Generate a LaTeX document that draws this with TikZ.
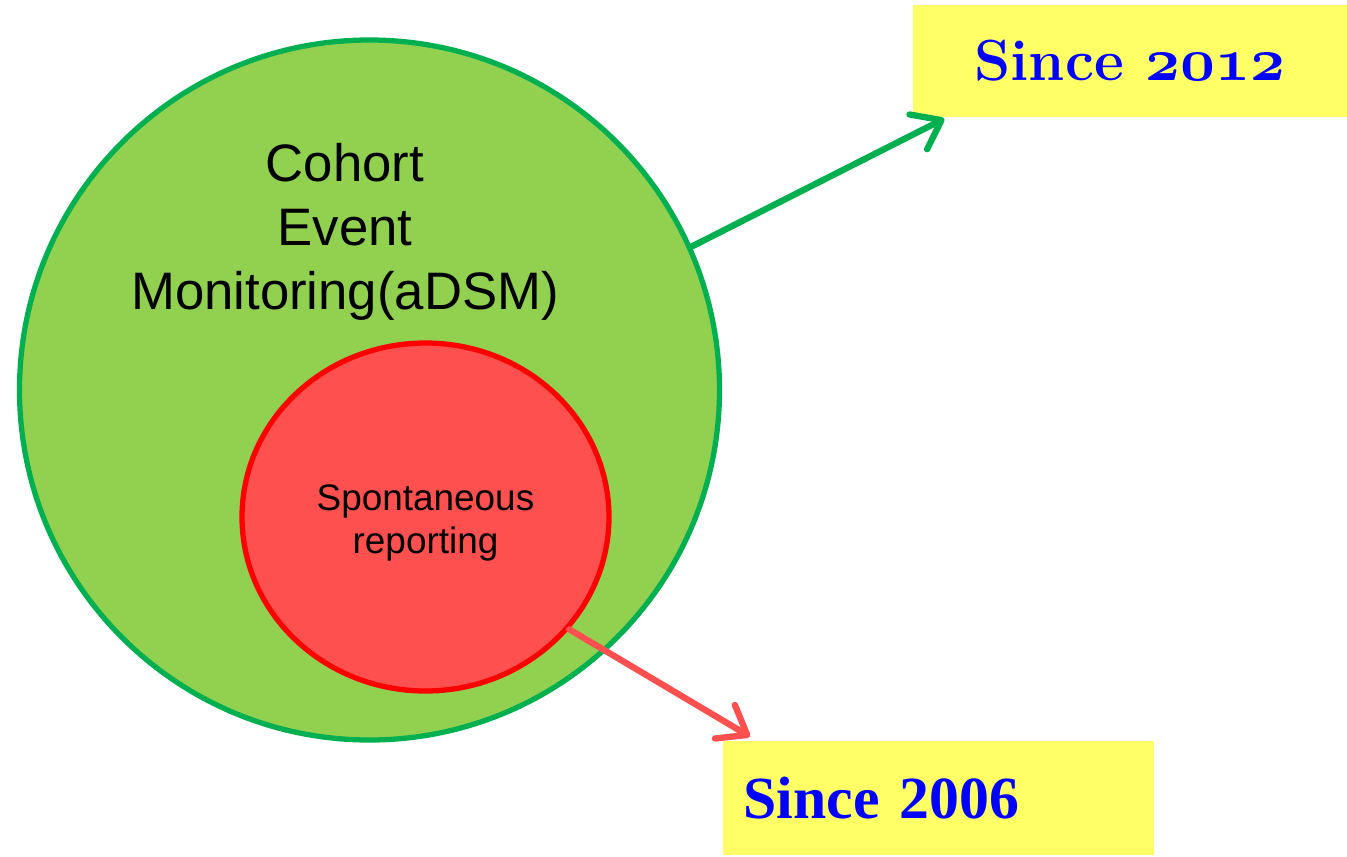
\documentclass[tikz,border=0pt]{standalone}
\usepackage{fontspec}
\newfontfamily\arialfont{Liberation Sans}
\newfontfamily\timesfont{Liberation Serif}
\usepackage{tikz}
\usetikzlibrary{calc,arrows.meta,shapes.geometric,positioning}
\definecolor{cemgreen}{HTML}{92D050}
\definecolor{cemline}{HTML}{00B050}
\definecolor{srred}{HTML}{FF5050}
\definecolor{srline}{HTML}{FF0000}
\definecolor{boxyellow}{HTML}{FFFF66}
\definecolor{yearblue}{HTML}{0000FF}

\begin{document}
\begin{tikzpicture} [{yearbox/.style={rectangle,fill=boxyellow,inner sep=0pt,text=yearblue}},{arrowst/.style={-{Straight Barb[length=2.6mm,width=3.9mm,round]},line width=1.8pt,line cap=round}}]
	\useasboundingbox (0,0) rectangle (13.47,8.56);
	%%circles
	\node [circle,draw=cemline,fill=cemgreen,line width=1.5pt,minimum size=7.0cm,inner sep=0pt] (cem) at (3.695,4.66) {};
	\node [font=\arialfont\fontsize{15}{18.2}\selectfont,align=center] (cemtext) at (3.45,6.24) {Cohort\\Event\\Monitoring(aDSM)};
	\node [ellipse,draw=srline,fill=srred,line width=1.5pt,minimum width=3.67cm,minimum height=3.48cm,inner sep=0pt] (sr) at (4.255,3.39) {};
	\node [align=center,font=\arialfont\fontsize{10.5}{12.2}\selectfont] (srtext) at ($(sr.center)+(0,-0.06)$) {Spontaneous\\reporting};
	%%year boxes
	\node [yearbox,minimum width=4.34cm,minimum height=1.12cm,font=\bfseries\fontsize{16.5}{19}\selectfont] (y2012) at (11.30,7.95) {Since {\boldmath$\mathnormal{2012}$}};
	\node [yearbox,anchor=south west,minimum height=1.14cm,text width=3.89cm,inner xsep=0.21cm,align=left,font=\timesfont\bfseries\fontsize{17}{20}\selectfont] (y2006) at (7.22,0) {Since 2006};
	%%arrows
	\draw [arrowst,cemline] (cem.24) -- ($(y2012.south west)+(0.32,-0.01)$);
	\draw [arrowst,srred] (sr.-38) -- ($(y2006.north west)+(0.28,0.04)$);
\end{tikzpicture}
\end{document}
